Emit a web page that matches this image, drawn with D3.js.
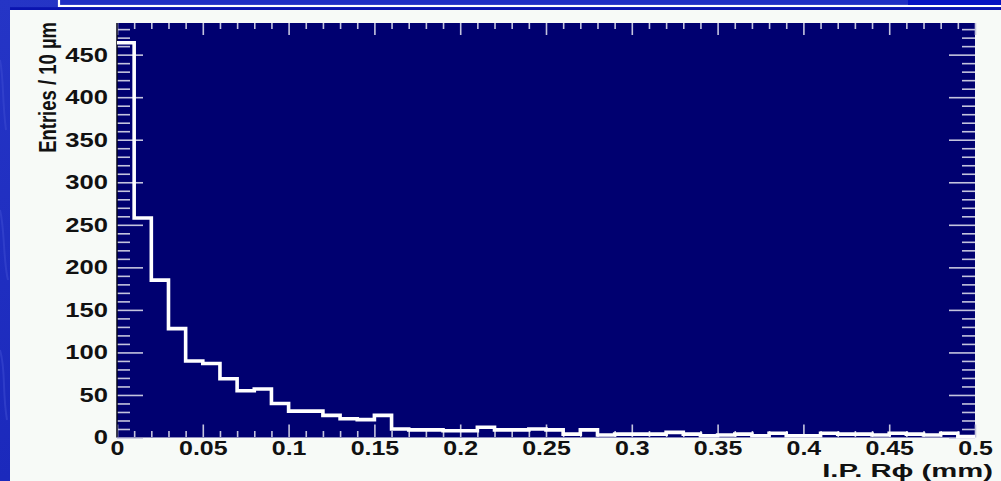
<!DOCTYPE html>
<html>
<head>
<meta charset="utf-8">
<script src="https://cdn.jsdelivr.net/npm/d3@7"></script>
<style>
  html, body { margin: 0; padding: 0; background: #1f2dc2; overflow: hidden; }
  svg { display: block; }
  text { font-family: "Liberation Sans", Arial, Helvetica, sans-serif; font-weight: bold; fill: #111; }
</style>
</head>
<body>
<svg id="chart" width="1001" height="481"></svg>
<script>
// Impact parameter (R-phi) histogram, 10 µm bins from 0 to 0.5 mm
const binEdges = [0, 0.01, 0.02, 0.03, 0.04, 0.05, 0.06, 0.07, 0.08, 0.09,
                  0.10, 0.11, 0.12, 0.13, 0.14, 0.15, 0.16, 0.17, 0.18, 0.19,
                  0.20, 0.21, 0.22, 0.23, 0.24, 0.25, 0.26, 0.27, 0.28, 0.29,
                  0.30, 0.31, 0.32, 0.33, 0.34, 0.35, 0.36, 0.37, 0.38, 0.39,
                  0.40, 0.41, 0.42, 0.43, 0.44, 0.45, 0.46, 0.47, 0.48, 0.49, 0.50];
const entries = [464, 258, 185, 128, 90, 87, 69, 55, 57, 40,
                 31, 31, 26, 22, 21, 26, 10, 9, 9, 8,
                 8, 12, 9, 9, 10, 9, 4, 9, 3, 4,
                 4, 4, 6, 4, 2, 3, 4, 2, 5, 2,
                 2, 5, 4, 4, 3, 5, 4, 3, 5, 1];

const xTickValues = [0, 0.05, 0.1, 0.15, 0.2, 0.25, 0.3, 0.35, 0.4, 0.45, 0.5];
const xTickLabels = ["0", "0.05", "0.1", "0.15", "0.2", "0.25", "0.3", "0.35", "0.4", "0.45", "0.5"];
const yTickValues = [0, 50, 100, 150, 200, 250, 300, 350, 400, 450];
const yTickLabels = ["0", "50", "100", "150", "200", "250", "300", "350", "400", "450"];
const xTitle = "I.P. R\u03D5 (mm)";
const yTitle = "Entries / 10 \u00B5m";

const W = 1001, H = 481;
const frame = { left: 117, right: 975, top: 23, bottom: 437.5 };
const stretch = 1.28;

const svg = d3.select("#chart");
const defs = svg.append("defs");

// slide background
const bg = defs.append("linearGradient").attr("id", "bgGrad")
  .attr("x1", 0).attr("y1", 0).attr("x2", 1).attr("y2", 1);
bg.append("stop").attr("offset", 0).attr("stop-color", "#2535c6");
bg.append("stop").attr("offset", 0.5).attr("stop-color", "#1b29bc");
bg.append("stop").attr("offset", 1).attr("stop-color", "#2333c4");
svg.append("rect").attr("width", W).attr("height", H).attr("fill", "url(#bgGrad)");

// soft streaks in the slide background
const streaks = svg.append("g").attr("fill", "none").attr("stroke", "#3a48d0").attr("stroke-width", 2).attr("opacity", 0.6);
streaks.append("path").attr("d", "M0,60 C4,80 2,100 6,130");
streaks.append("path").attr("d", "M0,210 C5,230 3,260 8,280");
streaks.append("path").attr("d", "M0,350 C6,370 2,390 7,420");
streaks.append("path").attr("d", "M120,2 C200,6 280,0 360,4");

// title box outline along the top edge
svg.append("rect").attr("x", 59).attr("y", -10).attr("width", 1000).attr("height", 16)
  .attr("fill", "#1f2fc4").attr("stroke", "#ffffff").attr("stroke-width", 2.2);
svg.append("rect").attr("x", 908).attr("y", -10).attr("width", 100).attr("height", 15)
  .attr("fill", "#0512c2");
svg.append("rect").attr("x", 10).attr("y", 7.2).attr("width", W).attr("height", 3)
  .attr("fill", "#0a14b0");

// canvas panel
svg.append("rect").attr("x", 10).attr("y", 10).attr("width", W - 10).attr("height", H - 10)
  .attr("fill", "#f7faf7");

// plot frame
svg.append("rect")
  .attr("x", frame.left).attr("y", frame.top)
  .attr("width", frame.right - frame.left).attr("height", frame.bottom - frame.top)
  .attr("fill", "#000070");

const x = d3.scaleLinear().domain([0, 0.5]).range([frame.left, frame.right]);
const y = d3.scaleLinear().domain([0, d3.max(entries) * 1.05]).range([frame.bottom, frame.top]);

const yMinor = d3.range(0, y.domain()[1], 10).filter(v => v % 50 !== 0);
const xMinor = d3.range(0, 51, 1).map(v => v / 100).filter(v => Math.round(v * 100) % 5 !== 0);

function tickGroup(axis, tx, ty) {
  const g = svg.append("g").attr("transform", `translate(${tx},${ty})`).call(axis);
  g.select(".domain").remove();
  g.selectAll("text").remove();
  g.selectAll("line").attr("stroke", "#c4c4de").attr("stroke-width", 1.6);
  return g;
}

// tick marks on all four sides, pointing inward
tickGroup(d3.axisLeft(y).tickValues(yTickValues).tickSize(-26), frame.left, 0);
tickGroup(d3.axisLeft(y).tickValues(yMinor).tickSize(-13), frame.left, 0);
tickGroup(d3.axisRight(y).tickValues(yTickValues).tickSize(-26), frame.right, 0);
tickGroup(d3.axisRight(y).tickValues(yMinor).tickSize(-13), frame.right, 0);
tickGroup(d3.axisBottom(x).tickValues(xTickValues).tickSize(-13), 0, frame.bottom);
tickGroup(d3.axisBottom(x).tickValues(xMinor).tickSize(-6.5), 0, frame.bottom);
tickGroup(d3.axisTop(x).tickValues(xTickValues).tickSize(-12), 0, frame.top);
tickGroup(d3.axisTop(x).tickValues(xMinor).tickSize(-6), 0, frame.top);

// axis lines
svg.append("line").attr("x1", frame.left).attr("x2", frame.left)
  .attr("y1", frame.top).attr("y2", frame.bottom).attr("stroke", "#05051a").attr("stroke-width", 1.5);
svg.append("line").attr("x1", frame.left).attr("x2", frame.right)
  .attr("y1", frame.bottom).attr("y2", frame.bottom).attr("stroke", "#8c8cbc").attr("stroke-width", 1);

// histogram outline
const steps = [[x(binEdges[0]), y(entries[0])]];
entries.forEach((v, i) => {
  steps.push([x(binEdges[i]), y(v)]);
  steps.push([x(binEdges[i + 1]), y(v)]);
});
svg.append("path")
  .attr("d", d3.line()(steps))
  .attr("fill", "none")
  .attr("stroke", "#ffffff")
  .attr("stroke-width", 3.6)
  .attr("stroke-linejoin", "miter");

// tick labels
const yLab = svg.append("g").attr("transform", `translate(${frame.left},0)`)
  .call(d3.axisLeft(y).tickValues(yTickValues).tickFormat((d, i) => yTickLabels[i]).tickSize(0).tickPadding(7));
yLab.select(".domain").remove();
yLab.selectAll("text").attr("font-size", 20).attr("fill", "#111")
  .attr("font-family", null).attr("transform", `scale(${stretch},1)`);

const xLab = svg.append("g").attr("transform", `translate(0,${frame.bottom})`)
  .call(d3.axisBottom(x).tickValues(xTickValues).tickFormat((d, i) => xTickLabels[i]).tickSize(0).tickPadding(3.5));
xLab.select(".domain").remove();
xLab.selectAll("text").attr("font-size", 19.5).attr("fill", "#111")
  .attr("font-family", null).attr("transform", `scale(${stretch},1)`);

// axis titles
svg.append("text")
  .attr("transform", `translate(993,477) scale(1.58,1)`)
  .attr("text-anchor", "end")
  .attr("font-size", 18.5)
  .text(xTitle);

svg.append("text")
  .attr("transform", `translate(56,22) scale(1.3,1) rotate(-90)`)
  .attr("text-anchor", "end")
  .attr("font-size", 18.5)
  .text(yTitle);
</script>
</body>
</html>
